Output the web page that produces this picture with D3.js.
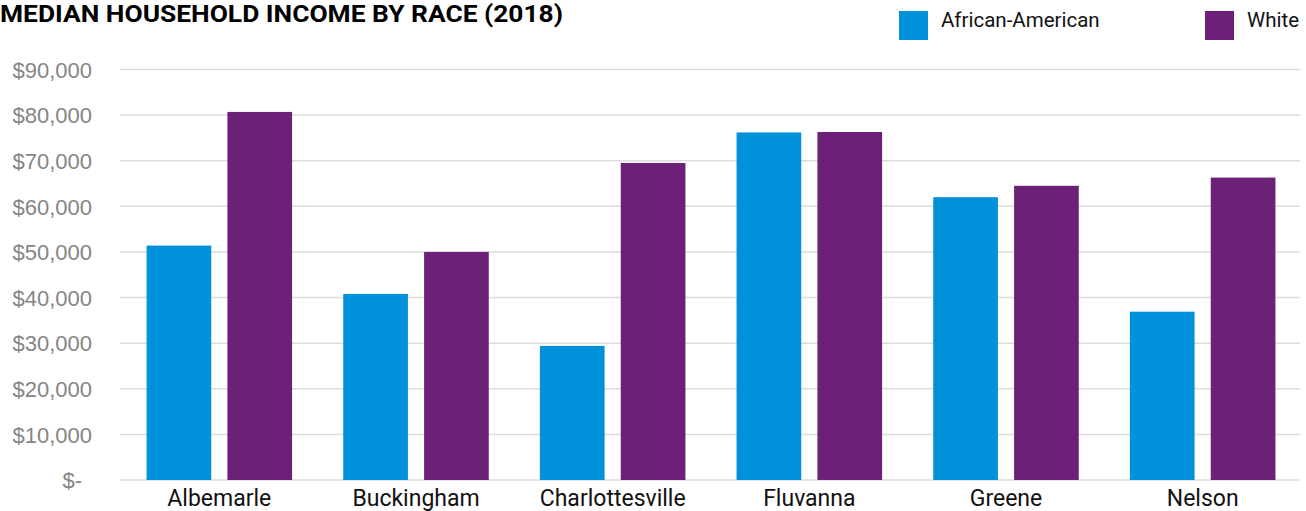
<!DOCTYPE html>
<html>
<head>
<meta charset="utf-8">
<script src="https://cdn.jsdelivr.net/npm/d3@7"></script>
<style>
  html, body { margin: 0; padding: 0; background: #ffffff; }
  svg { display: block; }
</style>
</head>
<body>
<svg id="chart" width="1306" height="511"></svg>
<script>
// Median household income by race, 2018
const counties = ["Albemarle", "Buckingham", "Charlottesville", "Fluvanna", "Greene", "Nelson"];
const seriesNames = ["African-American", "White"];
const africanAmerican = [51400, 40800, 29400, 76200, 62000, 36900];
const white = [80700, 50000, 69500, 76300, 64500, 66300];
const yTicks = [0, 10000, 20000, 30000, 40000, 50000, 60000, 70000, 80000, 90000];
const colors = ["#0091da", "#6d2077"];

const rows = counties.map((c, i) => ({ county: c, values: [africanAmerican[i], white[i]] }));

const svg = d3.select("#chart");

const y = d3.scaleLinear().domain([0, 90000]).range([480, 69.5]);
const x0 = d3.scaleBand().domain(counties).range([121, 1301]).paddingInner(0.26).paddingOuter(0.13);
const x1 = d3.scaleBand().domain(seriesNames).range([0, x0.bandwidth()]).paddingInner(0.2);
const color = d3.scaleOrdinal().domain(seriesNames).range(colors);

const fmt = v => v === 0 ? "$-" : "$" + d3.format(",")(v);

// gridlines
svg.append("g")
  .selectAll("line")
  .data(yTicks)
  .join("line")
  .attr("x1", 120).attr("x2", 1300)
  .attr("y1", d => y(d)).attr("y2", d => y(d))
  .attr("stroke", "#dcdcdc")
  .attr("stroke-width", 1.5);

// y axis labels (the zero label sits a little further left, accounting style)
const yAxis = d3.axisLeft(y).tickValues(yTicks).tickFormat(fmt).tickSize(0).tickPadding(0);
const yg = svg.append("g").attr("transform", "translate(92,0)").call(yAxis);
yg.select(".domain").remove();
yg.selectAll("text")
  .attr("fill", "#858585")
  .attr("font-family", "'Liberation Sans', Arial, sans-serif")
  .attr("font-size", 22)
  .attr("dy", "0.35em")
  .attr("dx", d => d === 0 ? -10 : 0);

// bars
svg.append("g")
  .selectAll("g")
  .data(rows)
  .join("g")
  .attr("transform", d => `translate(${x0(d.county)},0)`)
  .selectAll("rect")
  .data(d => d.values.map((v, i) => ({ key: seriesNames[i], value: v })))
  .join("rect")
  .attr("x", d => x1(d.key))
  .attr("width", x1.bandwidth())
  .attr("y", d => y(d.value))
  .attr("height", d => y(0) - y(d.value))
  .attr("fill", d => color(d.key));

// category labels
const xAxis = d3.axisBottom(x0).tickSize(0).tickPadding(0);
const xg = svg.append("g").attr("transform", "translate(0,490)").call(xAxis);
xg.select(".domain").remove();
xg.selectAll("text")
  .attr("fill", "#111111")
  .attr("font-family", "Roboto, sans-serif")
  .attr("font-size", 23)
  .attr("dy", "0.71em");

// title
svg.append("text")
  .attr("x", 0).attr("y", 22)
  .attr("font-family", "Roboto, sans-serif")
  .attr("font-weight", "bold")
  .attr("font-size", 24)
  .attr("textLength", 563)
  .attr("lengthAdjust", "spacingAndGlyphs")
  .attr("fill", "#000000")
  .text("MEDIAN HOUSEHOLD INCOME BY RACE (2018)");

// legend
const legendX = [899, 1205];
const legend = svg.append("g")
  .selectAll("g")
  .data(seriesNames)
  .join("g")
  .attr("transform", (d, i) => `translate(${legendX[i]},11)`);
legend.append("rect")
  .attr("width", 29).attr("height", 29)
  .attr("fill", d => color(d));
legend.append("text")
  .attr("x", 42).attr("y", 16)
  .attr("font-family", "Roboto, sans-serif")
  .attr("font-size", 20.5)
  .attr("fill", "#111111")
  .text(d => d);
</script>
</body>
</html>
